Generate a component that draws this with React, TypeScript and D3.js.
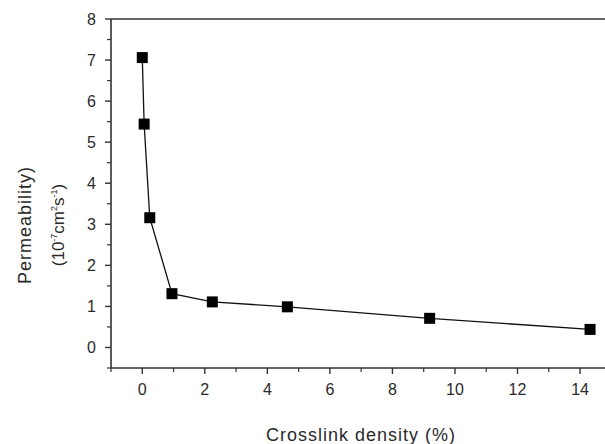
import React from 'react';
import * as d3 from 'd3';

// values
const crosslink = [0, 0.06, 0.24, 0.95, 2.24, 4.64, 9.19, 14.32];
const permeability = [7.06, 5.44, 3.16, 1.31, 1.11, 0.99, 0.71, 0.44];
const xTicks = [0, 2, 4, 6, 8, 10, 12, 14];
const yTicks = [0, 1, 2, 3, 4, 5, 6, 7, 8];

const W = 605, H = 444;
const left = 111, top = 19, bottom = 368;

const App = () => {
  const x = d3.scaleLinear().domain([-1, 15]).range([left, left + 16 * 31.27]);
  const y = d3.scaleLinear().domain([-0.5, 8]).range([bottom, top]);

  const points = crosslink.map((c, i) => [c, permeability[i]] as [number, number]);
  const line = d3.line<[number, number]>().x(d => x(d[0])).y(d => y(d[1]));

  const xMinor = d3.range(-1, 16, 1).filter(v => v % 2 !== 0);
  const yMinor = d3.range(-0.5, 8, 0.5).filter(v => v % 1 !== 0);
  const font = 'Arial, "Liberation Sans", sans-serif';
  const axisColor = '#333';
  const textColor = '#2a2a2a';

  return (
    <svg width={W} height={H} style={{ position: 'absolute', left: 0, top: 0, background: '#fff' }}>
      {/* frame */}
      <line x1={left} x2={W} y1={top} y2={top} stroke={axisColor} strokeWidth={1.6} />
      <line x1={left} x2={left} y1={top} y2={bottom} stroke={axisColor} strokeWidth={1.6} />
      <line x1={left} x2={W} y1={bottom} y2={bottom} stroke={axisColor} strokeWidth={1.6} />

      {/* y axis ticks */}
      {yTicks.map(t => (
        <g key={'y' + t}>
          <line x1={left - 6} x2={left} y1={y(t)} y2={y(t)} stroke={axisColor} strokeWidth={1.4} />
          <text x={left - 15} y={y(t)} dy="0.36em" textAnchor="end" fontSize={16} fontFamily={font} fill={textColor}>{t}</text>
        </g>
      ))}
      {yMinor.map(t => (
        <line key={'ym' + t} x1={left - 4} x2={left} y1={y(t)} y2={y(t)} stroke={axisColor} strokeWidth={1.2} />
      ))}

      {/* x axis ticks */}
      {xTicks.map(t => (
        <g key={'x' + t}>
          <line x1={x(t)} x2={x(t)} y1={bottom} y2={bottom + 6} stroke={axisColor} strokeWidth={1.4} />
          <text x={x(t)} y={bottom + 27} textAnchor="middle" fontSize={16} fontFamily={font} fill={textColor}>{t}</text>
        </g>
      ))}
      {xMinor.map(t => (
        <line key={'xm' + t} x1={x(t)} x2={x(t)} y1={bottom} y2={bottom + 4} stroke={axisColor} strokeWidth={1.2} />
      ))}

      {/* data */}
      <path d={line(points) || ''} fill="none" stroke="#111" strokeWidth={1.3} />
      {points.map((p, i) => (
        <rect key={i} x={x(p[0]) - 5.5} y={y(p[1]) - 5.5} width={11} height={11} fill="#000" />
      ))}

      {/* axis titles */}
      <text x={361} y={441} textAnchor="middle" fontSize={18} letterSpacing={1} fontFamily={font} fill={textColor}>Crosslink density (%)</text>
      <g transform="translate(31,225) rotate(-90)">
        <text x={0} y={0} textAnchor="middle" fontSize={18} letterSpacing={1} fontFamily={font} fill={textColor}>Permeability)</text>
      </g>
      <g transform="translate(64,225) rotate(-90)">
        <text x={0} y={0} textAnchor="middle" fontSize={17} fontFamily={font} fill={textColor}>
          (10<tspan fontSize={9} dy={-7}>-7</tspan>
          <tspan dy={7}>cm</tspan>
          <tspan fontSize={9} dy={-7}>2</tspan>
          <tspan dy={7}>s</tspan>
          <tspan fontSize={9} dy={-7}>-1</tspan>
          <tspan dy={7}>)</tspan>
        </text>
      </g>
    </svg>
  );
};

export default App;
